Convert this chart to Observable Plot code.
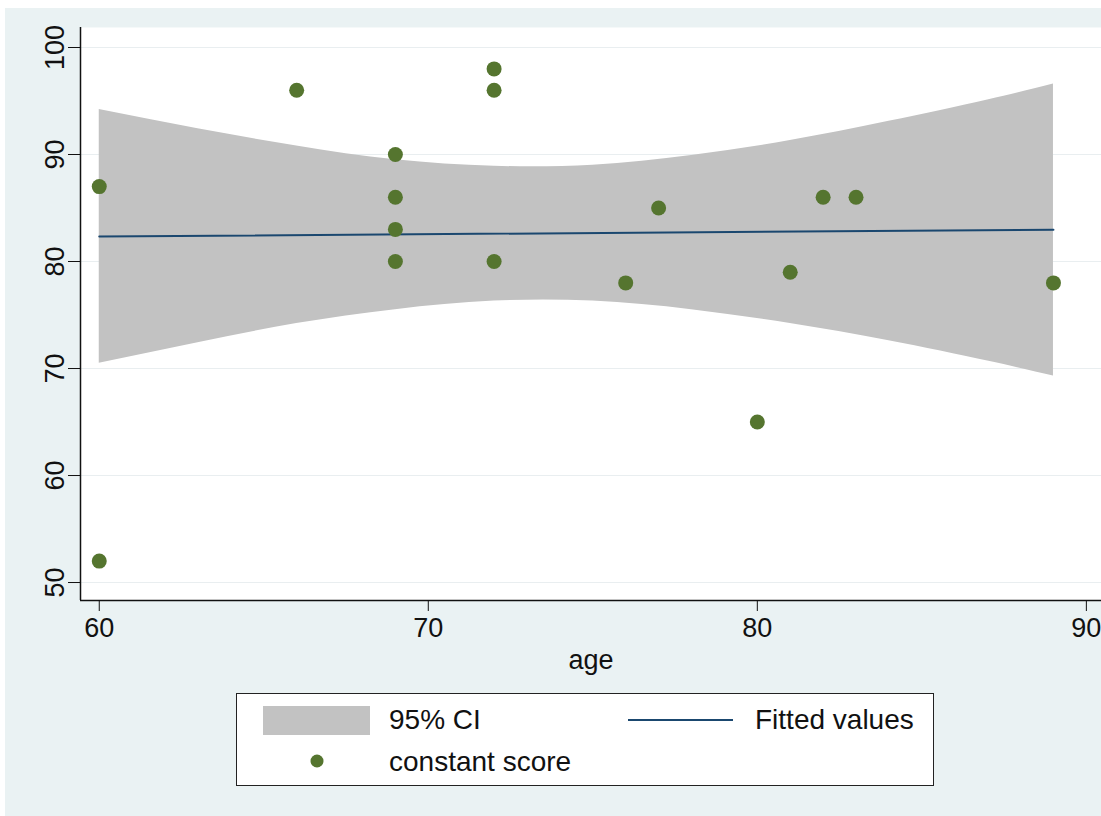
<!DOCTYPE html>
<html>
<head>
<meta charset="utf-8">
<script src="https://cdn.jsdelivr.net/npm/d3@7"></script>
<script src="https://cdn.jsdelivr.net/npm/@observablehq/plot@0.6"></script>
<style>
  html, body { margin: 0; padding: 0; background: #ffffff; }
  #frame { position: absolute; left: 5px; top: 8px; width: 1096px; height: 808px; background: #eaf2f3; overflow: hidden;
           font-family: Arial, "Liberation Sans", sans-serif; color: #111; }
  #chart { position: absolute; left: 0; top: 0; }
  #legend { position: absolute; left: 231px; top: 685px; width: 698px; height: 93px; background: #fff; border: 1.5px solid #222; box-sizing: border-box; }
  #legend .lbl { position: absolute; font-size: 28px; line-height: 28px; white-space: nowrap; }
  #legend svg { position: absolute; left: 0; top: 0; }
</style>
</head>
<body>
<div id="frame">
  <div id="chart"></div>
  <div id="legend"></div>
</div>
<script>
// ---- data ----
const ages   = [60, 60, 66, 69, 69, 69, 69, 72, 72, 72, 76, 77, 80, 81, 82, 83, 89];
const scores = [87, 52, 96, 90, 86, 83, 80, 98, 96, 80, 78, 85, 65, 79, 86, 86, 78];

const ciAge  = [60, 63, 66, 69, 72, 75, 78, 81, 84, 87, 89];
const ciLow  = [70.5, 72.4, 74.2, 75.5, 76.3, 76.3, 75.5, 74.2, 72.6, 70.7, 69.3];
const ciHigh = [94.2, 92.4, 90.8, 89.5, 88.9, 89.0, 89.9, 91.3, 93.1, 95.1, 96.6];

const fitAge   = [60, 89];
const fitValue = [82.34, 82.96];

const xTicks = [60, 70, 80, 90];
const yTicks = [50, 60, 70, 80, 90, 100];

const legendLabels = ["95% CI", "Fitted values", "constant score"];

// ---- tables ----
const points = ages.map((a, i) => ({age: a, score: scores[i]}));
const ci = ciAge.map((a, i) => ({age: a, low: ciLow[i], high: ciHigh[i]}));
const fit = fitAge.map((a, i) => ({age: a, value: fitValue[i]}));

const xDomain = [59.43, 90.46];
const yDomain = [48.32, 101.87];

const CI_FILL = "#c2c2c2";
const FIT = "#1a476f";
const DOT = "#55752f";

const chart = Plot.plot({
  width: 1096,
  height: 680,
  marginLeft: 75,
  marginRight: 0,
  marginTop: 19,
  marginBottom: 88,
  style: {background: "transparent", fontFamily: "Arial, 'Liberation Sans', sans-serif", fontSize: "27px", color: "#111", overflow: "visible"},
  x: {domain: xDomain},
  y: {domain: yDomain},
  marks: [
    Plot.frame({fill: "#ffffff", stroke: null}),
    Plot.gridY(yTicks, {stroke: "#e9eef0", strokeOpacity: 1, strokeWidth: 1}),
    Plot.areaY(ci, {x: "age", y1: "low", y2: "high", fill: CI_FILL, curve: "natural"}),
    Plot.line(fit, {x: "age", y: "value", stroke: FIT, strokeWidth: 2}),
    Plot.dot(points, {x: "age", y: "score", r: 7.5, fill: DOT, stroke: null}),
    Plot.ruleX([xDomain[0]], {stroke: "#111", strokeWidth: 1.5}),
    Plot.ruleY([yDomain[0]], {stroke: "#111", strokeWidth: 1.5}),
    Plot.axisX(xTicks, {tickSize: 11, tickPadding: 6, label: "age", labelAnchor: "center", labelArrow: "none", labelOffset: 68, stroke: "#111", fontSize: 27}),
    Plot.axisY(yTicks, {tickSize: 12, tickPadding: 5, tickRotate: -90, label: null, stroke: "#111", fontSize: 27})
  ]
});
document.getElementById("chart").appendChild(chart);

// ---- legend ----
const legend = document.getElementById("legend");
const ns = "http://www.w3.org/2000/svg";
const sw = document.createElementNS(ns, "svg");
sw.setAttribute("width", 698); sw.setAttribute("height", 93);
sw.innerHTML =
  `<rect x="26" y="12" width="107" height="29" fill="${CI_FILL}"></rect>` +
  `<line x1="391" x2="496" y1="26" y2="26" stroke="${FIT}" stroke-width="2"></line>` +
  `<circle cx="80" cy="67" r="6.5" fill="${DOT}"></circle>`;
legend.appendChild(sw);
const pos = [[152, 12], [518, 12], [152, 54]];
legendLabels.forEach((t, i) => {
  const s = document.createElement("span");
  s.className = "lbl";
  s.textContent = t;
  s.style.left = pos[i][0] + "px";
  s.style.top = pos[i][1] + "px";
  legend.appendChild(s);
});
</script>
</body>
</html>
